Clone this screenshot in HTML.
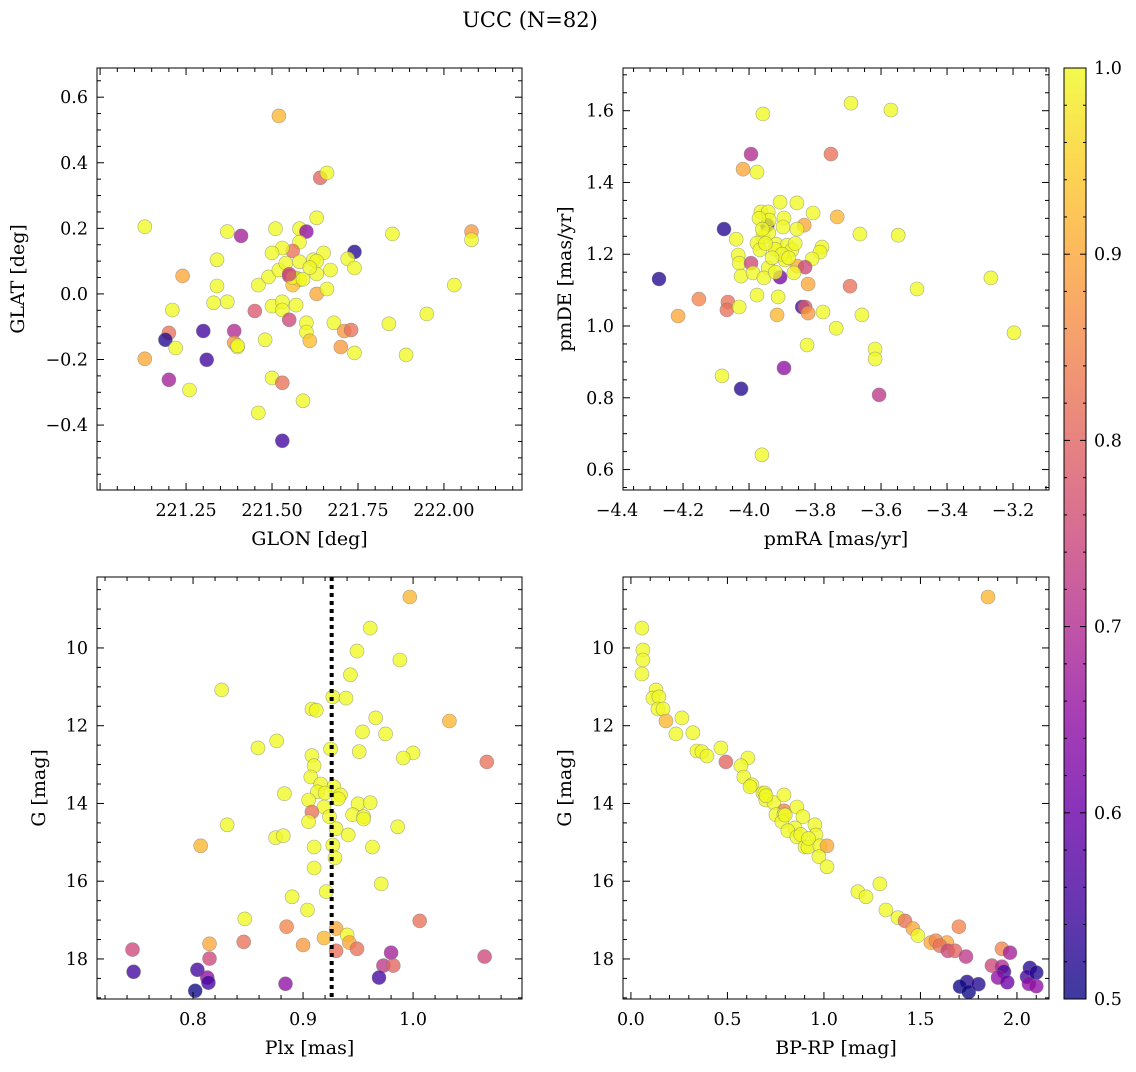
<!DOCTYPE html>
<html><head><meta charset="utf-8">
<style>
html,body{margin:0;padding:0;background:#fff;}
svg text{font-family:"DejaVu Serif","Liberation Serif",serif;fill:#000;}
</style></head>
<body>
<svg id="fig" width="1136" height="1067" viewBox="0 0 1136 1067" xmlns="http://www.w3.org/2000/svg">
<defs>
<linearGradient id="plasmaGrad" x1="0" y1="1" x2="0" y2="0">
<stop offset="0" stop-color="#0d0887"/><stop offset="0.1" stop-color="#41049d"/><stop offset="0.2" stop-color="#6a00a8"/><stop offset="0.3" stop-color="#8f0da4"/><stop offset="0.4" stop-color="#b12a90"/><stop offset="0.5" stop-color="#cc4778"/><stop offset="0.6" stop-color="#e16462"/><stop offset="0.7" stop-color="#f2844b"/><stop offset="0.8" stop-color="#fca636"/><stop offset="0.9" stop-color="#fcce25"/><stop offset="1" stop-color="#f0f921"/>
</linearGradient>
</defs>
<text x="530" y="27" font-size="21" text-anchor="middle">UCC (N=82)</text>
</svg>
<script>
// ---------- Panel 1: GLON / GLAT ----------
const glon = [221.52,221.64,221.66,221.13,221.37,221.41,221.51,221.58,221.60,221.63,221.58,221.56,221.53,221.50,221.65,221.74,221.72,221.74,221.85,222.08,222.08,222.03,221.95,221.84,221.89,221.34,221.24,221.34,221.33,221.37,221.21,221.45,221.46,221.49,221.52,221.54,221.58,221.62,221.63,221.67,221.63,221.55,221.57,221.58,221.56,221.63,221.66,221.50,221.53,221.53,221.57,221.55,221.60,221.60,221.61,221.68,221.71,221.73,221.70,221.74,221.20,221.19,221.22,221.13,221.30,221.31,221.39,221.39,221.40,221.48,221.20,221.26,221.50,221.53,221.59,221.46,221.53,221.56,221.59,221.61,221.55,221.40];
const glat = [0.543,0.354,0.369,0.205,0.19,0.177,0.199,0.199,0.19,0.232,0.158,0.131,0.14,0.125,0.125,0.128,0.107,0.079,0.183,0.19,0.165,0.027,-0.061,-0.091,-0.186,0.104,0.055,0.024,-0.027,-0.024,-0.049,-0.052,0.027,0.052,0.073,0.094,0.098,0.104,0.1,0.073,0.061,0.055,0.049,0.043,0.027,0.0,0.015,-0.037,-0.024,-0.049,-0.034,-0.079,-0.088,-0.116,-0.143,-0.088,-0.113,-0.11,-0.162,-0.18,-0.119,-0.14,-0.165,-0.198,-0.113,-0.201,-0.113,-0.149,-0.162,-0.14,-0.262,-0.293,-0.256,-0.271,-0.326,-0.363,-0.448,0.05,0.045,0.08,0.06,-0.158];
const prob1 = [0.92,0.8,1,1,1,0.68,1,1,0.65,1,1,0.82,1,1,1,0.52,1,1,1,0.88,1,1,1,1,1,1,0.9,1,1,1,1,0.78,1,1,1,1,1,1,1,1,1,0.75,1,1,0.93,0.9,1,1,1,1,1,0.75,1,1,0.93,1,0.88,0.82,0.88,1,0.82,0.52,1,0.9,0.55,0.55,0.7,0.88,1,1,0.68,1,1,0.82,1,1,0.55,1,1,1,0.75,1];

// ---------- Panel 2: pmRA / pmDE ----------
const pmra = [-3.958,-3.691,-3.570,-3.994,-3.752,-4.018,-3.976,-3.906,-3.855,-3.806,-3.733,-3.964,-3.942,-3.894,-3.833,-4.076,-3.945,-3.939,-3.897,-3.855,-4.039,-3.958,-3.976,-3.918,-3.885,-3.967,-3.921,-3.870,-3.779,-3.785,-3.809,-4.033,-4.030,-3.994,-3.891,-3.942,-3.855,-3.830,-4.024,-3.988,-3.955,-3.906,-3.864,-4.273,-3.267,-3.664,-3.548,-3.821,-3.694,-3.491,-4.152,-4.064,-4.067,-4.030,-3.976,-3.912,-3.839,-3.830,-3.821,-4.215,-3.915,-3.776,-3.658,-3.736,-3.197,-3.824,-3.618,-3.618,-3.894,-4.082,-4.024,-3.606,-3.961,-3.94,-3.90,-3.97,-3.86,-3.93,-3.95,-3.88,-3.92,-3.96];
const pmde = [1.591,1.621,1.602,1.479,1.479,1.437,1.429,1.345,1.343,1.315,1.304,1.318,1.318,1.301,1.281,1.270,1.281,1.295,1.276,1.270,1.242,1.248,1.231,1.228,1.225,1.212,1.214,1.212,1.220,1.206,1.187,1.198,1.175,1.175,1.184,1.162,1.167,1.164,1.139,1.148,1.134,1.136,1.148,1.131,1.134,1.256,1.253,1.117,1.111,1.103,1.075,1.067,1.045,1.053,1.086,1.081,1.053,1.053,1.036,1.028,1.031,1.039,1.031,0.994,0.981,0.947,0.936,0.908,0.883,0.861,0.825,0.808,0.641,1.26,1.20,1.30,1.23,1.19,1.23,1.19,1.15,1.27];
const prob2 = [1,1,1,0.7,0.82,0.9,1,1,1,1,0.92,1,1,1,0.9,0.52,0.52,1,1,1,1,1,1,1,1,1,1,1,1,1,1,1,1,0.75,1,1,0.9,0.75,1,1,1,0.62,1,0.52,1,1,1,0.9,0.82,1,0.85,0.82,0.82,1,1,1,0.55,0.78,0.88,0.9,0.92,1,1,1,1,1,1,1,0.65,1,0.52,0.72,1,1,1,1,1,1,1,1,1,1];

// ---------- Panel 3: Plx / G ----------
const plx = [0.997,0.961,0.949,0.988,0.943,0.826,0.927,0.939,0.908,0.912,0.966,1.033,0.954,0.975,0.876,0.859,0.925,0.951,1.000,0.991,1.067,0.908,0.910,0.907,0.916,0.928,0.913,0.920,0.934,0.932,0.905,0.883,0.950,0.961,0.919,0.908,0.945,0.955,0.955,0.924,0.905,0.831,0.986,0.930,0.941,0.875,0.882,0.807,0.910,0.927,0.963,0.929,0.910,0.971,0.921,0.890,0.904,0.847,1.006,0.885,0.930,0.940,0.919,0.942,0.815,0.846,0.900,0.949,0.930,0.745,0.815,0.980,1.065,0.973,0.982,0.746,0.804,0.813,0.814,0.969,0.884,0.802];
const gmag3 = [8.69,9.49,10.08,10.31,10.69,11.08,11.26,11.29,11.57,11.60,11.80,11.88,12.16,12.21,12.39,12.57,12.60,12.67,12.70,12.83,12.93,12.77,13.03,13.32,13.50,13.57,13.70,13.73,13.78,13.88,13.91,13.75,14.01,13.98,14.09,14.22,14.29,14.34,14.40,14.34,14.47,14.55,14.60,14.65,14.81,14.88,14.83,15.09,15.12,15.07,15.12,15.40,15.66,16.07,16.27,16.40,16.74,16.97,17.02,17.17,17.22,17.38,17.46,17.58,17.61,17.56,17.64,17.74,17.79,17.76,17.99,17.84,17.94,18.17,18.17,18.33,18.28,18.48,18.61,18.48,18.64,18.82];
const prob3 = [0.92,1,1,1,1,1,1,1,1,1,1,0.92,1,1,1,1,1,1,1,1,0.82,1,1,1,1,1,1,1,1,1,1,1,1,1,1,0.82,1,1,1,1,1,1,1,1,1,1,1,0.92,1,1,1,1,1,1,1,1,1,1,0.82,0.85,0.9,1,0.92,0.9,0.9,0.82,0.88,0.82,0.82,0.75,0.75,0.68,0.75,0.72,0.8,0.55,0.55,0.65,0.55,0.55,0.65,0.5];
const plxRef = [0.926];

// ---------- Panel 4: BP-RP / G ----------
const bprp = [1.850,0.057,0.062,0.062,0.057,0.130,0.114,0.145,0.140,0.166,0.181,0.264,0.233,0.321,0.342,0.368,0.394,0.466,0.492,0.606,0.570,0.585,0.627,0.617,0.684,0.694,0.699,0.741,0.793,0.793,0.860,0.751,0.793,0.891,0.782,0.850,0.953,0.813,0.959,0.860,0.902,0.917,0.979,1.016,0.974,1.016,1.176,1.218,1.290,1.321,1.383,1.420,1.461,1.487,1.699,1.554,1.580,1.637,1.601,1.642,1.679,1.736,1.922,1.964,1.870,1.922,1.933,1.902,2.067,2.052,2.062,1.741,1.705,1.75,1.80,2.10,2.10,1.95,0.70,0.80,0.88,0.92];
const gmag4 = [8.69,9.49,10.05,10.31,10.67,11.08,11.29,11.26,11.57,11.57,11.88,11.80,12.21,12.18,12.65,12.67,12.78,12.57,12.93,12.83,13.03,13.32,13.52,13.57,13.73,13.73,13.91,13.98,13.78,14.19,14.09,14.29,14.29,14.34,14.47,14.63,14.55,14.70,14.81,14.86,15.12,15.12,15.09,15.09,15.37,15.63,16.27,16.40,16.07,16.74,16.94,17.02,17.22,17.40,17.17,17.58,17.53,17.58,17.66,17.79,17.79,17.94,17.74,17.84,18.17,18.20,18.33,18.48,18.23,18.46,18.64,18.59,18.71,18.85,18.65,18.35,18.70,18.60,13.80,14.30,14.80,14.90];
const prob4 = [0.92,1,1,1,1,1,1,1,1,1,0.92,1,1,1,1,1,1,1,0.8,1,1,1,1,1,1,1,1,1,1,0.85,1,1,1,1,1,1,1,1,1,1,1,1,1,0.9,1,1,1,1,1,1,1,0.82,0.9,1,0.85,0.9,0.85,0.9,0.82,0.75,0.8,0.72,0.85,0.68,0.75,0.7,0.55,0.65,0.52,0.55,0.65,0.52,0.5,0.5,0.52,0.52,0.65,0.6,1,1,1,1];

// ---------- tick labels ----------
const xt1 = ["221.25","221.50","221.75","222.00"];
const yt1 = ["−0.4","−0.2","0.0","0.2","0.4","0.6"];
const xt2 = ["−4.4","−4.2","−4.0","−3.8","−3.6","−3.4","−3.2"];
const yt2 = ["0.6","0.8","1.0","1.2","1.4","1.6"];
const xt3 = ["0.8","0.9","1.0"];
const yt3 = ["10","12","14","16","18"];
const xt4 = ["0.0","0.5","1.0","1.5","2.0"];
const cbt = ["0.5","0.6","0.7","0.8","0.9","1.0"];

const NS = "http://www.w3.org/2000/svg";
const svg = document.getElementById('fig');
const TF = 17.5, LF = 19;
function mk(tag, attrs, parent){ const e=document.createElementNS(NS,tag); for(const k in attrs) e.setAttribute(k,attrs[k]); (parent||svg).appendChild(e); return e; }
const stops=[[0,13,8,135],[0.1,65,4,157],[0.2,106,0,168],[0.3,143,13,164],[0.4,177,42,144],[0.5,204,71,120],[0.6,225,100,98],[0.7,242,132,75],[0.8,252,166,54],[0.9,252,206,37],[1,240,249,33]];
function plasma(c){ let t=Math.max(0,Math.min(1,(c-0.5)/0.5)); for(let i=0;i<stops.length-1;i++){ const a=stops[i],b=stops[i+1]; if(t<=b[0]){ const f=(t-a[0])/(b[0]-a[0]); return `rgb(${Math.round(a[1]+f*(b[1]-a[1]))},${Math.round(a[2]+f*(b[2]-a[2]))},${Math.round(a[3]+f*(b[3]-a[3]))})`; } } return 'rgb(240,249,33)'; }

function panel(o){
  const g=mk('g',{});
  
  
  const sx=v=>o.x0+(v-o.xmin)/(o.xmax-o.xmin)*(o.x1-o.x0);
  const sy=o.yinv ? (v=>o.y0+(v-o.ymin)/(o.ymax-o.ymin)*(o.y1-o.y0)) : (v=>o.y1-(v-o.ymin)/(o.ymax-o.ymin)*(o.y1-o.y0));
  const pg=mk('g',{},g);
  
  
  for(let i=0;i<o.xs.length;i++){
    const c=mk('circle',{cx:sx(o.xs[i]).toFixed(1),cy:sy(o.ys[i]).toFixed(1),r:7,fill:plasma(o.cs[i]),'fill-opacity':0.78,stroke:'#777','stroke-opacity':0.6,'stroke-width':0.6},pg);
    
    
  }
  if(o.vline!==undefined){
    const l=mk('line',{x1:sx(o.vline),x2:sx(o.vline),y1:o.y0,y2:o.y1,stroke:'#000','stroke-width':4,'stroke-dasharray':'4 4'},g);
    
    
  }
  const fr=mk('rect',{x:o.x0,y:o.y0,width:o.x1-o.x0,height:o.y1-o.y0,fill:'none',stroke:'#000','stroke-width':1},g);
  
  
  const tg=mk('g',{stroke:'#000','stroke-width':1},g);
  const eps=1e-9;
  for(let v=Math.ceil(o.xmin/o.xminor-eps)*o.xminor; v<=o.xmax+eps; v+=o.xminor){
    const X=sx(v); const maj=Math.abs(v/o.xmajor-Math.round(v/o.xmajor))<1e-4; const L=maj?7:4;
    mk('line',{x1:X,x2:X,y1:o.y1,y2:o.y1-L},tg); mk('line',{x1:X,x2:X,y1:o.y0,y2:o.y0+L},tg);
  }
  for(let v=Math.ceil(o.ymin/o.yminor-eps)*o.yminor; v<=o.ymax+eps; v+=o.yminor){
    const Y=sy(v); const maj=Math.abs(v/o.ymajor-Math.round(v/o.ymajor))<1e-4; const L=maj?7:4;
    mk('line',{x1:o.x0,x2:o.x0+L,y1:Y,y2:Y},tg); mk('line',{x1:o.x1,x2:o.x1-L,y1:Y,y2:Y},tg);
  }
  o.xticks.forEach((lab,i)=>{ const v=o.xtv[i]; const t=mk('text',{x:sx(v),y:o.y1+26,'font-size':TF,'text-anchor':'middle'},g); t.textContent=lab;
      });
  o.yticks.forEach((lab,i)=>{ const v=o.ytv[i]; const t=mk('text',{x:o.x0-9,y:sy(v)+6,'font-size':TF,'text-anchor':'end'},g); t.textContent=lab;
      });
  const xl=mk('text',{x:(o.x0+o.x1)/2,y:o.y1+55,'font-size':LF,'text-anchor':'middle'},g); xl.textContent=o.xlabel;
   
  const yx=o.ylx, yy=(o.y0+o.y1)/2;
  const yl=mk('text',{x:yx,y:yy,'font-size':LF,'text-anchor':'middle',transform:`rotate(-90 ${yx} ${yy})`},g); yl.textContent=o.ylabel;
   
}
const nums=a=>a.map(s=>parseFloat(s.replace('−','-')));
panel({name:'glon-glat-panel',x0:97,x1:522,y0:68,y1:490,xmin:220.991,xmax:222.227,ymin:-0.598,ymax:0.689,xs:glon,ys:glat,cs:prob1,xmajor:0.25,xminor:0.05,ymajor:0.2,yminor:0.05,xticks:xt1,xtv:nums(xt1),yticks:yt1,ytv:nums(yt1),xlabel:'GLON [deg]',ylabel:'GLAT [deg]',ylx:24});
panel({name:'pm-panel',x0:623,x1:1049,y0:68,y1:490,xmin:-4.382,xmax:-3.091,ymin:0.543,ymax:1.719,xs:pmra,ys:pmde,cs:prob2,xmajor:0.2,xminor:0.05,ymajor:0.2,yminor:0.05,xticks:xt2,xtv:nums(xt2),yticks:yt2,ytv:nums(yt2),xlabel:'pmRA [mas/yr]',ylabel:'pmDE [mas/yr]',ylx:571});
panel({name:'plx-g-panel',x0:97,x1:522,y0:577,y1:999,xmin:0.7127,xmax:1.099,ymin:8.175,ymax:19.03,yinv:true,xs:plx,ys:gmag3,cs:prob3,vline:plxRef[0],xmajor:0.1,xminor:0.02,ymajor:2,yminor:0.5,xticks:xt3,xtv:nums(xt3),yticks:yt3,ytv:nums(yt3),xlabel:'Plx [mas]',ylabel:'G [mag]',ylx:45});
panel({name:'cmd-panel',x0:623,x1:1049,y0:577,y1:999,xmin:-0.041,xmax:2.166,ymin:8.175,ymax:19.03,yinv:true,xs:bprp,ys:gmag4,cs:prob4,xmajor:0.5,xminor:0.1,ymajor:2,yminor:0.5,xticks:xt4,xtv:nums(xt4),yticks:yt3,ytv:nums(yt3),xlabel:'BP-RP [mag]',ylabel:'G [mag]',ylx:571});

// colorbar
const cb=mk('g',{});


mk('rect',{x:1064,y:68,width:22,height:931,fill:'url(#plasmaGrad)','fill-opacity':0.8},cb);
mk('rect',{x:1064,y:68,width:22,height:931,fill:'none',stroke:'#000','stroke-width':1},cb);
const cy=v=>999-(v-0.5)/0.5*931;
for(let k=0;k<=25;k++){ const v=0.5+k*0.02; const Y=cy(v); const maj=k%5===0; mk('line',{x1:1086,x2:1086-(maj?6:3),y1:Y,y2:Y,stroke:'#000','stroke-width':1},cb); mk('line',{x1:1064,x2:1064+(maj?6:3),y1:Y,y2:Y,stroke:'#000','stroke-width':1},cb); }
cbt.forEach(l=>{ const t=mk('text',{x:1094,y:cy(parseFloat(l))+6,'font-size':TF},cb); t.textContent=l;
    });
</script>
</body></html>
